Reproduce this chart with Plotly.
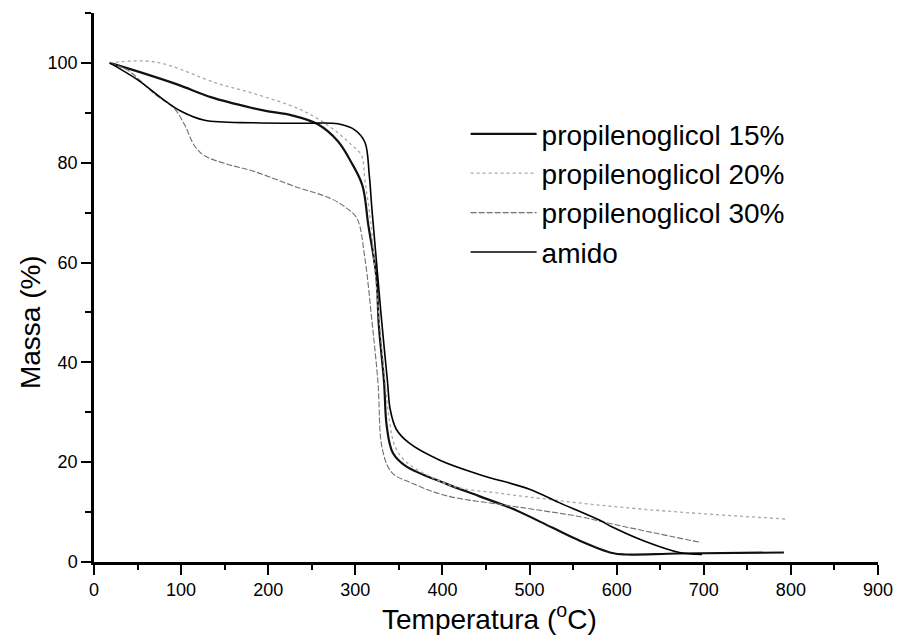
import plotly.graph_objects as go

# ---- data ----
p15_x = [18, 59, 97, 135, 181, 200, 227, 257, 280, 295, 308, 315, 324, 327, 333, 336, 343, 358, 404, 442, 480, 526, 556, 595, 610, 671, 792]
p15_y = [100, 97.8, 95.6, 93.1, 91.0, 90.3, 89.5, 87.7, 84.3, 80.2, 75.5, 67.4, 57.4, 47.4, 36.0, 27.3, 21.9, 19.2, 15.7, 13.2, 10.7, 6.9, 4.4, 1.8, 1.5, 1.7, 1.9]

p20_x = [18, 70, 143, 181, 235, 258, 280, 296, 307, 311, 318, 323, 328, 334, 339, 346, 360, 400, 423, 460, 500, 580, 672, 795]
p20_y = [100, 100.2, 95.8, 94.0, 90.8, 88.7, 86.0, 83.5, 81.5, 76.5, 67.5, 57.4, 47.4, 36.5, 28.5, 23.0, 19.8, 16.0, 14.7, 13.9, 13.0, 11.4, 10.0, 8.6]

p30_x = [18, 39, 70, 92, 104, 115, 126, 153, 183, 233, 271, 290, 302, 311, 319, 326, 331, 342, 365, 404, 472, 518, 557, 595, 697]
p30_y = [100, 98.5, 93.7, 90.9, 87.6, 83.5, 81.5, 79.7, 78.3, 75.1, 72.9, 70.9, 68.8, 60.8, 48.4, 36.0, 22.6, 17.9, 15.8, 13.3, 11.4, 10.2, 9.1, 7.6, 3.9]

amido_x = [18, 51, 77, 100, 127, 184, 238, 280, 300, 311, 316, 319, 324, 330, 337, 340, 347, 362, 397, 443, 500, 534, 580, 595, 633, 672, 698]
amido_y = [100, 96.5, 93.0, 90.3, 88.5, 88.0, 87.9, 87.8, 86.5, 84.1, 77.5, 70.8, 60.7, 48.7, 36.0, 30.6, 26.6, 23.8, 20.4, 17.5, 14.6, 11.9, 8.4, 7.0, 4.1, 1.9, 1.5]

names = ["propilenoglicol 15%", "propilenoglicol 20%", "propilenoglicol 30%", "amido"]
x_ticks = [0, 100, 200, 300, 400, 500, 600, 700, 800, 900]
y_ticks = [0, 20, 40, 60, 80, 100]
x_title = "Temperatura (<sup>o</sup>C)"
y_title = "Massa (%)"

FONT = "Liberation Sans, Arial, sans-serif"

fig = go.Figure()
series = [
    (p15_x, p15_y, dict(color="#111111", width=2.2)),
    (p20_x, p20_y, dict(color="#a8a8a8", width=1.3, dash="dot")),
    (p30_x, p30_y, dict(color="#707070", width=1.1, dash="6px,2px")),
    (amido_x, amido_y, dict(color="#000000", width=1.6)),
]
for i, (xs, ys, ln) in enumerate(series):
    fig.add_trace(go.Scatter(x=xs, y=ys, mode="lines", name=names[i], line=ln,
                             line_shape="spline", legendgroup=f"g{i}"))

fig.update_layout(
    width=897, height=635,
    margin=dict(l=94, r=19, t=13, b=73),
    paper_bgcolor="white", plot_bgcolor="white",
    font=dict(family=FONT, color="black", size=18),
    showlegend=True,
    legend=dict(x=0.474, y=0.825, xanchor="left", yanchor="top",
                bgcolor="rgba(0,0,0,0)", font=dict(size=28, family=FONT),
                itemwidth=66, tracegroupgap=0),
    annotations=[
        dict(text=x_title, xref="paper", yref="paper", x=0.505, y=-0.1,
             xanchor="center", yanchor="middle", showarrow=False,
             font=dict(size=28, family=FONT, color="black")),
        dict(text=y_title, xref="paper", yref="paper", x=-0.0816, y=0.437,
             xanchor="center", yanchor="middle", showarrow=False, textangle=-90,
             font=dict(size=28, family=FONT, color="black")),
    ],
)
fig.update_xaxes(
    range=[0, 900], tickvals=x_ticks, ticktext=[str(v) for v in x_ticks],
    automargin=False,
    showgrid=False, zeroline=False, showline=True, linecolor="black", linewidth=2.5,
    ticks="outside", ticklen=10, tickwidth=2, tickcolor="black",
    minor=dict(dtick=50, ticks="outside", ticklen=5, tickwidth=2, tickcolor="black", showgrid=False),
    tickfont=dict(size=18),
)
fig.update_yaxes(
    range=[0, 110], tickvals=y_ticks, ticktext=[str(v) for v in y_ticks],
    automargin=False,
    showgrid=False, zeroline=False, showline=True, linecolor="black", linewidth=2.5,
    ticks="outside", ticklen=10, tickwidth=2, tickcolor="black",
    minor=dict(dtick=10, ticks="outside", ticklen=6, tickwidth=2, tickcolor="black", showgrid=False),
    tickfont=dict(size=18),
)

fig.write_html("out.html", config={"displayModeBar": False},
               post_script="document.body.style.margin='0';document.body.style.overflow='hidden';")
